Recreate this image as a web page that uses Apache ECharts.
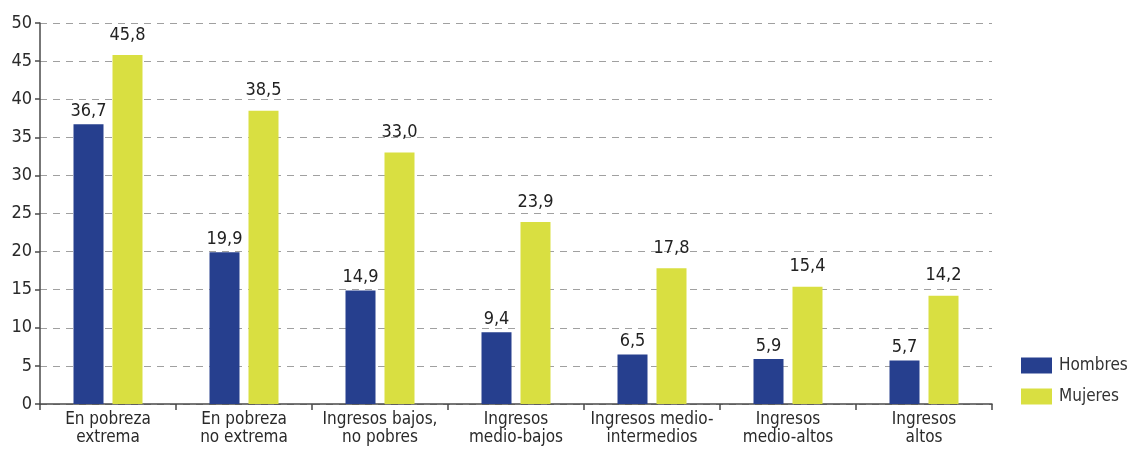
<!DOCTYPE html>
<html><head><meta charset="utf-8">
<script src="https://cdn.jsdelivr.net/npm/echarts@6/dist/echarts.min.js"></script>
<style>html,body{margin:0;padding:0;background:#fff}#c{width:1130px;height:449px}</style>
</head><body><div id="c"></div>
<script>
const categories = ["En pobreza\nextrema","En pobreza\nno extrema","Ingresos bajos,\nno pobres","Ingresos\nmedio-bajos","Ingresos medio-\nintermedios","Ingresos\nmedio-altos","Ingresos\naltos"];
const hombres = [36.7, 19.9, 14.9, 9.4, 6.5, 5.9, 5.7];
const mujeres = [45.8, 38.5, 33.0, 23.9, 17.8, 15.4, 14.2];
const yTicks = {min: 0, max: 50, interval: 5};
const FONT = "'DejaVu Sans Condensed','Liberation Sans Narrow','Roboto',sans-serif";
const fmt = p => p.value.toFixed(1).replace('.', ',');
const chart = echarts.init(document.getElementById('c'), null, {renderer: 'canvas'});
chart.setOption({
  animation: false,
  textStyle: {fontFamily: FONT},
  grid: {left: 40, right: 138, top: 23, bottom: 45},
  legend: {
    orient: 'vertical', left: 1021, top: 357, itemWidth: 31, itemHeight: 16, itemGap: 14,
    padding: 0,
    textStyle: {fontFamily: FONT, fontSize: 17, color: '#333', padding: [0, 0, 0, 2]},
    icon: 'rect', data: ['Hombres', 'Mujeres']
  },
  xAxis: {
    type: 'category', data: categories,
    axisLine: {lineStyle: {color: '#4a4a4a', width: 1.5}},
    axisTick: {show: true, length: 6, lineStyle: {color: '#4a4a4a', width: 1.5}},
    axisLabel: {interval: 0, fontFamily: FONT, fontSize: 17, color: '#2a2a2a', lineHeight: 18, margin: 7}
  },
  yAxis: {
    type: 'value', min: yTicks.min, max: yTicks.max, interval: yTicks.interval,
    axisLine: {show: true, lineStyle: {color: '#4a4a4a', width: 1.5}},
    axisTick: {show: true, length: 5, lineStyle: {color: '#4a4a4a', width: 1.5}},
    axisLabel: {fontFamily: FONT, fontSize: 18, color: '#2a2a2a', margin: 8},
    splitLine: {lineStyle: {color: '#a0a0a0', type: [7, 6], width: 1.2}}
  },
  series: [
    {name: 'Hombres', type: 'bar', data: hombres, barWidth: 30, barGap: '30%',
     itemStyle: {color: '#263f8e'},
     label: {show: true, position: 'top', distance: 4, formatter: fmt, fontFamily: FONT, fontSize: 18, color: '#222'}},
    {name: 'Mujeres', type: 'bar', data: mujeres, barWidth: 30,
     itemStyle: {color: '#d9df41'},
     label: {show: true, position: 'top', distance: 11, formatter: fmt, fontFamily: FONT, fontSize: 18, color: '#222'}}
  ]
});
</script></body></html>
